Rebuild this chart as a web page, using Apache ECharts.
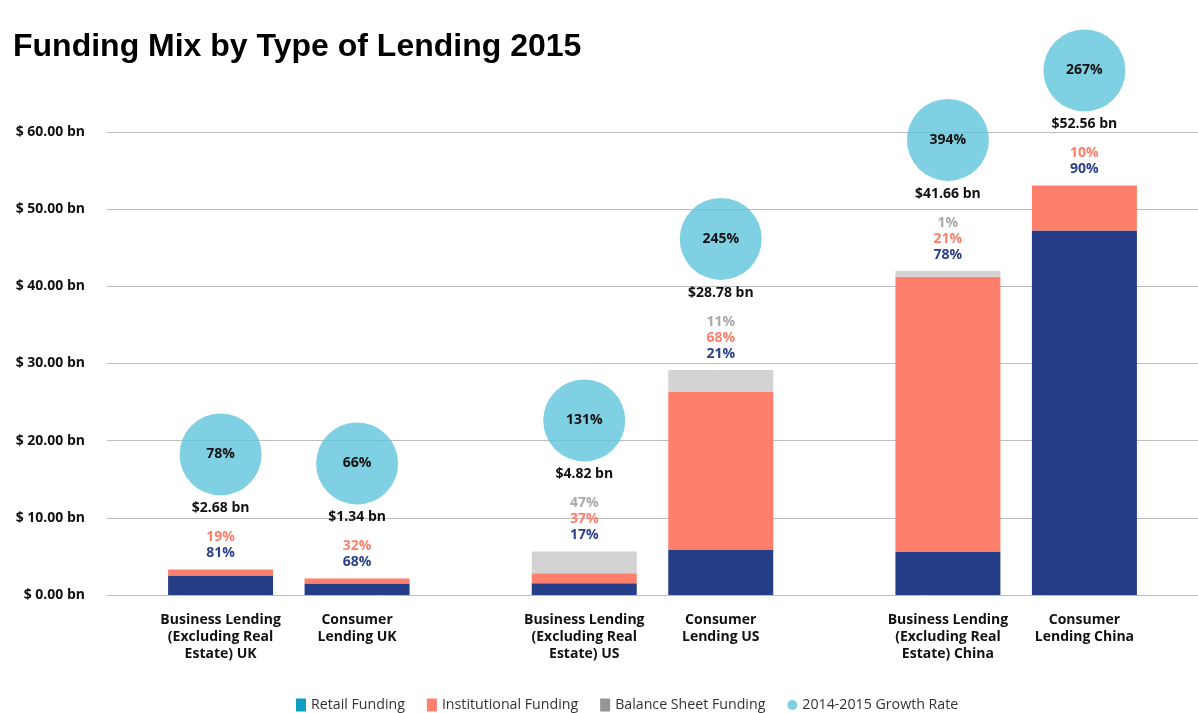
<!DOCTYPE html>
<html>
<head>
<meta charset="utf-8">
<title>Funding Mix by Type of Lending 2015</title>
<script src="https://cdn.jsdelivr.net/npm/echarts@6/dist/echarts.min.js"></script>
<style>
	html,body{margin:0;padding:0;background:#fff;}
	#chart{width:1198px;height:713px;}
</style>
</head>
<body>
<div id="chart"></div>
<script>
//分组（每组两根柱子：business / consumer）
var groups = ['UK', 'US', 'China'];
//每根柱子下方的名称，顺序：UK-b, UK-c, US-b, US-c, China-b, China-c
var barNames = [
	'Business Lending\n(Excluding Real\nEstate) UK',
	'Consumer\nLending UK',
	'Business Lending\n(Excluding Real\nEstate) US',
	'Consumer\nLending US',
	'Business Lending\n(Excluding Real\nEstate) China',
	'Consumer\nLending China'
];
//柱子高度（bn）
var retailValues = [2.53, 1.49, 1.53, 5.91, 5.65, 47.23];
var institutionalValues = [0.78, 0.65, 1.30, 20.40, 35.60, 5.84];
var balanceValues = [0, 0, 2.82, 2.86, 0.75, 0];
//柱子上方的标注
var totalAmounts = [2.68, 1.34, 4.82, 28.78, 41.66, 52.56];
var growthRates = [78, 66, 131, 245, 394, 267];
var retailPct = [81, 68, 17, 21, 78, 90];
var institutionalPct = [19, 32, 37, 68, 21, 10];
var balancePct = [null, null, 47, 11, 1, null];
//y轴
var yTicks = [0, 10, 20, 30, 40, 50, 60];

var labelFont = 'Open Sans';
var labelSize = 14;

//取某个stack（0=business，1=consumer）在各组中的数据
function pick(arr, k){
	var out = [];
	for(var i = 0; i < groups.length; i++){
		out.push(arr[i * 2 + k]);
	}
	return out;
}

//柱顶标注：增长率圆圈 + 金额 + 各部分占比
function topLabel(idx){
	var lines = [];
	lines.push('{c|' + growthRates[idx] + '%}');
	lines.push('{amt|$' + totalAmounts[idx].toFixed(2) + ' bn}');
	lines.push('{sp| }');
	if(balancePct[idx] != null){
		lines.push('{bal|' + balancePct[idx] + '%}');
	}
	lines.push('{inst|' + institutionalPct[idx] + '%}');
	lines.push('{ret|' + retailPct[idx] + '%}');
	return lines.join('\n');
}

var richStyle = {
	c: {
		width: 82,
		height: 82,
		lineHeight: 82,
		borderRadius: 41,
		backgroundColor: 'rgba(94,196,219,0.8)',
		align: 'center',
		color: '#111',
		fontSize: labelSize,
		fontWeight: 'bold',
		fontFamily: labelFont
	},
	amt: {color: '#111', fontSize: labelSize, fontWeight: 'bold', lineHeight: 26, fontFamily: labelFont},
	sp: {fontSize: 1, lineHeight: 8},
	bal: {color: '#a9a9a9', fontSize: labelSize, fontWeight: 'bold', lineHeight: 16, fontFamily: labelFont},
	inst: {color: '#fd7f6b', fontSize: labelSize, fontWeight: 'bold', lineHeight: 16, fontFamily: labelFont},
	ret: {color: '#2b3f8a', fontSize: labelSize, fontWeight: 'bold', lineHeight: 16, fontFamily: labelFont}
};

var stacks = ['business', 'consumer'];
var series = [];
for(var k = 0; k < 2; k++){
	(function(k){
		series.push({
			name: 'Retail Funding',
			type: 'bar',
			stack: stacks[k],
			barWidth: 105,
			barGap: '30%',
			itemStyle: {color: '#263d87'},
			label: {
				show: true,
				position: 'bottom',
				distance: 17,
				color: '#111',
				fontSize: labelSize,
				fontWeight: 'bold',
				lineHeight: 17,
				fontFamily: labelFont,
				formatter: function(p){
					return barNames[p.dataIndex * 2 + k];
				}
			},
			data: pick(retailValues, k)
		});
		series.push({
			name: 'Institutional Funding',
			type: 'bar',
			stack: stacks[k],
			barWidth: 105,
			barGap: '30%',
			itemStyle: {color: '#fe7f6c'},
			data: pick(institutionalValues, k)
		});
		series.push({
			name: 'Balance Sheet Funding',
			type: 'bar',
			stack: stacks[k],
			barWidth: 105,
			barGap: '30%',
			itemStyle: {color: '#d3d3d4'},
			data: pick(balanceValues, k)
		});
		//零高度柱，只用来挂柱顶的标注
		series.push({
			name: '2014-2015 Growth Rate',
			type: 'bar',
			stack: stacks[k],
			barWidth: 105,
			barGap: '30%',
			itemStyle: {color: '#7ecfe0'},
			label: {
				show: true,
				position: 'top',
				distance: 8,
				formatter: function(p){
					return topLabel(p.dataIndex * 2 + k);
				},
				rich: richStyle
			},
			data: pick([0, 0, 0, 0, 0, 0], k)
		});
	})(k);
}

var chart = echarts.init(document.getElementById('chart'));
var option = {
	animation: false,
	title: {
		text: 'Funding Mix by Type of Lending 2015',
		left: 8,
		top: 26,
		textStyle: {
			fontFamily: 'Liberation Sans',
			fontSize: 32,
			fontWeight: 'bold',
			color: '#000'
		}
	},
	legend: {
		top: 693,
		left: 291,
		itemWidth: 10,
		itemHeight: 13,
		itemGap: 22,
		selectedMode: false,
		textStyle: {
			fontFamily: labelFont,
			fontSize: 14.2,
			color: '#333'
		},
		data: [
			{name: 'Retail Funding', icon: 'rect', itemStyle: {color: '#0e9fc3'}},
			{name: 'Institutional Funding', icon: 'rect', itemStyle: {color: '#fe7f6c'}},
			{name: 'Balance Sheet Funding', icon: 'rect', itemStyle: {color: '#939598'}},
			{name: '2014-2015 Growth Rate', icon: 'circle', itemStyle: {color: '#7ecfe0'}}
		]
	},
	grid: {
		left: 107,
		right: -13,
		top: 132,
		bottom: 118
	},
	xAxis: {
		type: 'category',
		data: groups,
		axisLine: {show: false},
		axisTick: {show: false},
		axisLabel: {show: false}
	},
	yAxis: {
		type: 'value',
		min: yTicks[0],
		max: yTicks[yTicks.length - 1],
		interval: 10,
		axisLine: {show: false},
		axisTick: {show: false},
		axisLabel: {
			margin: 22,
			color: '#111',
			fontSize: labelSize,
			fontWeight: 'bold',
			fontFamily: labelFont,
			formatter: function(v){
				return '$ ' + v.toFixed(2) + ' bn';
			}
		},
		splitLine: {lineStyle: {color: '#bdbdbd', width: 1}}
	},
	series: series
};
chart.setOption(option);
</script>
</body>
</html>
